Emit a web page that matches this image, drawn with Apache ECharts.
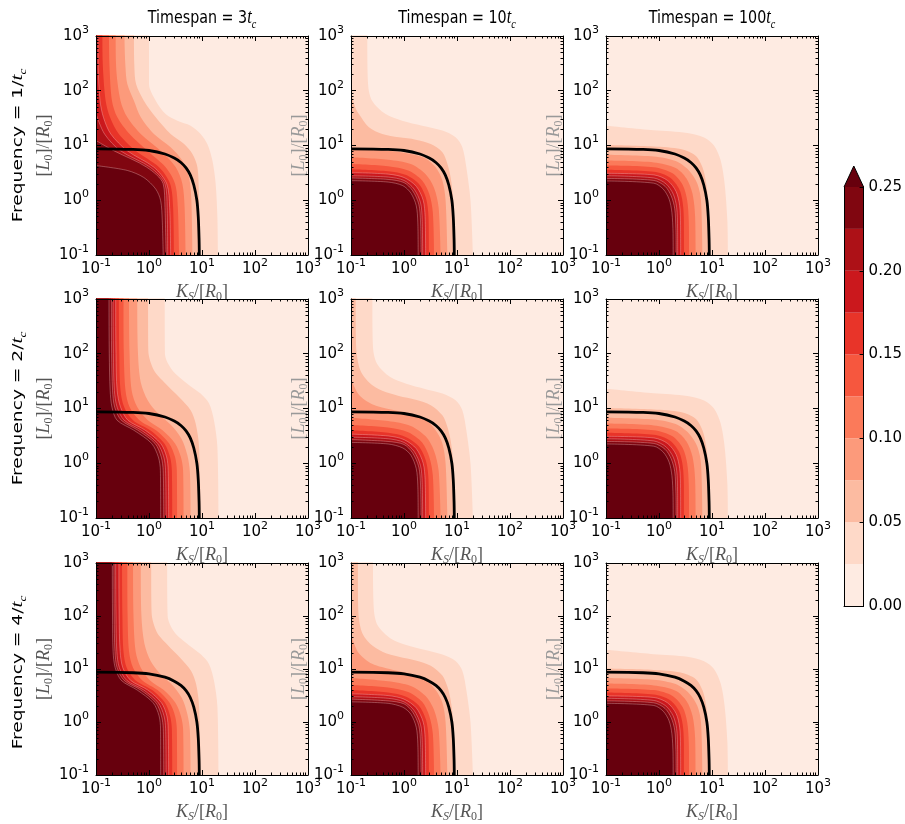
<!DOCTYPE html>
<html>
<head>
<meta charset="utf-8">
<script src="https://cdn.jsdelivr.net/npm/echarts@6/dist/echarts.min.js"></script>
<style>
html, body { margin: 0; padding: 0; background: #fff; }
#main { width: 905px; height: 824px; }
</style>
</head>
<body>
<div id="main"></div>
<script>
// contour levels and the Reds colours of each band (band 0 is the panel background)
var levels = [0.025, 0.05, 0.075, 0.1, 0.125, 0.15, 0.175, 0.2, 0.225, 0.25];
var bandColors = ['#feebe2', '#fed9c8', '#fcbba1', '#fc9a7b', '#fb7a5a', '#f6573e', '#e83429', '#cb181d', '#ad1117', '#800610'];
var overColor = '#67000d';
var cbTicks = [0, 0.05, 0.1, 0.15, 0.2, 0.25];
var timespans = ['3', '10', '100'];
var frequencies = ['1', '2', '4'];

// black reference curve, same in every panel
var boundaryLine = [[0.1, 8.7], [0.5, 8.5], [1, 8.1], [2, 7.0], [3, 5.9], [4, 4.9], [5, 3.9], [6, 2.9], [7, 1.9], [8, 1.0], [8.5, 0.5], [8.8, 0.2], [8.9, 0.1]];

// contour boundaries [Ks, L0], one line per level (0.025 ... 0.25)
var f1t3 = [
  [[1.0, 1000], [1.0, 133], [1.34, 66], [2.06, 37.6], [3.43, 28.4], [6.1, 23], [9.4, 16.2], [12.6, 10.6], [15.7, 5.3], [18.1, 2.0], [19.5, 0.5], [20, 0.1]],
  [[0.52, 1000], [0.53, 268], [0.57, 133], [0.8, 66], [1.34, 32.7], [2.56, 16.2], [4.6, 10.6], [6.6, 7.0], [8.2, 4.0], [8.8, 0.98], [9.2, 0.1]],
  [[0.345, 1000], [0.36, 268], [0.39, 133], [0.52, 66], [0.7, 32.7], [1.24, 16.2], [2.56, 9.3], [4.26, 5.3], [5.7, 2.6], [6.3, 0.98], [6.6, 0.1]],
  [[0.235, 1000], [0.24, 268], [0.29, 66], [0.39, 32.7], [0.7, 16.2], [1.66, 8.0], [3.2, 4.0], [4.26, 2.0], [4.7, 0.74], [4.9, 0.1]],
  [[0.176, 1000], [0.18, 268], [0.2, 66], [0.253, 32.7], [0.43, 16.2], [0.93, 8.0], [2.06, 4.0], [3.1, 2.0], [3.5, 0.74], [3.7, 0.1]],
  [[0.132, 1000], [0.135, 268], [0.152, 66], [0.184, 32.7], [0.27, 16.2], [0.56, 8.0], [1.55, 4.0], [2.5, 2.0], [2.85, 0.74], [2.96, 0.1]],
  [[0.109, 1000], [0.11, 268], [0.119, 66], [0.138, 32.7], [0.19, 16.2], [0.39, 8.0], [1.24, 4.0], [2.16, 2.0], [2.45, 0.74], [2.56, 0.1]],
  [[0.1, 37.6], [0.145, 16.2], [0.29, 8.0], [1.06, 4.0], [2.0, 2.0], [2.2, 0.74], [2.25, 0.1]],
  [[0.1, 12.3], [0.218, 8.0], [0.91, 4.0], [1.85, 2.0], [2.0, 0.74], [2.1, 0.1]],
  [[0.1, 4.3], [0.39, 3.5], [0.8, 2.6], [1.34, 1.6], [1.66, 0.98], [1.78, 0.42], [1.85, 0.1]]
];
var f1t10 = [
  [[0.203, 1000], [0.21, 133], [0.25, 66], [0.45, 37.6], [0.92, 28.4], [2.2, 23], [5.3, 18.7], [9.4, 14.1], [12.6, 9.3], [15.0, 4.0], [18.0, 0.98], [20, 0.1]],
  [[0.1, 93], [0.12, 50], [0.141, 37.6], [0.218, 21.5], [0.39, 16.2], [0.8, 14.1], [1.66, 12.8], [3.2, 10.6], [5.3, 7.5], [6.6, 4.6], [7.6, 2.6], [8.5, 0.98], [9.2, 0.1]],
  [[0.1, 9.0], [0.5, 8.0], [1.34, 7.0], [2.56, 5.8], [3.96, 4.0], [5.3, 2.3], [6.1, 0.98], [6.6, 0.1]],
  [[0.1, 6.1], [0.5, 5.5], [1.34, 4.6], [2.56, 3.0], [3.68, 1.7], [4.5, 0.74], [4.9, 0.1]],
  [[0.1, 4.6], [0.5, 4.2], [1.2, 3.5], [2.2, 2.3], [3.0, 1.3], [3.5, 0.6], [3.7, 0.1]],
  [[0.1, 3.7], [0.5, 3.4], [1.1, 2.9], [1.9, 2.0], [2.6, 1.1], [2.9, 0.5], [2.96, 0.1]],
  [[0.1, 3.2], [0.5, 3.0], [1.0, 2.6], [1.7, 1.8], [2.3, 1.0], [2.5, 0.5], [2.56, 0.1]],
  [[0.1, 2.8], [0.5, 2.65], [1.0, 2.3], [1.55, 1.6], [2.05, 0.9], [2.2, 0.45], [2.25, 0.1]],
  [[0.1, 2.55], [0.5, 2.4], [1.0, 2.1], [1.45, 1.5], [1.9, 0.85], [2.05, 0.4], [2.1, 0.1]],
  [[0.1, 2.28], [0.5, 2.15], [0.95, 1.85], [1.35, 1.35], [1.7, 0.8], [1.82, 0.4], [1.85, 0.1]]
];
var f1t100 = [
  [[0.1, 23], [0.8, 19], [3.43, 17], [7.1, 14], [10.9, 10], [14.6, 5.3], [17.3, 2.0], [19.5, 0.42], [20, 0.1]],
  [[0.1, 10.2], [0.8, 9.6], [2.56, 8.6], [4.9, 6.5], [6.6, 4.0], [7.8, 2.0], [8.6, 0.74], [9.2, 0.1]],
  [[0.1, 6.8], [0.8, 6.3], [2.06, 5.2], [3.68, 3.5], [5.3, 2.0], [6.2, 0.98], [6.6, 0.1]],
  [[0.1, 5.3], [0.8, 4.9], [2.06, 3.9], [3.3, 2.5], [4.3, 1.3], [4.8, 0.5], [4.9, 0.1]],
  [[0.1, 4.3], [0.8, 4.0], [1.8, 3.1], [2.8, 1.9], [3.4, 1.0], [3.65, 0.4], [3.7, 0.1]],
  [[0.1, 3.6], [0.8, 3.3], [1.6, 2.6], [2.4, 1.6], [2.8, 0.9], [2.95, 0.4], [2.96, 0.1]],
  [[0.1, 3.1], [0.8, 2.9], [1.45, 2.3], [2.1, 1.45], [2.45, 0.8], [2.55, 0.35], [2.56, 0.1]],
  [[0.1, 2.8], [0.8, 2.55], [1.35, 2.0], [1.85, 1.3], [2.15, 0.75], [2.24, 0.3], [2.25, 0.1]],
  [[0.1, 2.5], [0.8, 2.3], [1.3, 1.8], [1.7, 1.2], [1.98, 0.7], [2.08, 0.3], [2.1, 0.1]],
  [[0.1, 2.25], [0.8, 2.05], [1.2, 1.6], [1.55, 1.05], [1.75, 0.6], [1.84, 0.25], [1.85, 0.1]]
];
var f2t3 = [
  [[1.98, 1000], [2.0, 100], [2.75, 50], [5.28, 28.4], [9.4, 18.7], [13.6, 12.3], [16.8, 6.1], [19.5, 2.0], [20.5, 0.1]],
  [[0.96, 1000], [0.97, 115], [1.24, 50], [2.06, 28.4], [3.68, 16.2], [6.1, 9.3], [7.6, 5.3], [8.8, 2.0], [9.4, 0.1]],
  [[0.6, 1000], [0.62, 100], [0.7, 30], [0.95, 14], [1.5, 8.0], [2.6, 5.0], [4.1, 2.8], [5.3, 1.4], [5.9, 0.7], [6.1, 0.1]],
  [[0.42, 1000], [0.43, 100], [0.47, 21.5], [0.6, 10.6], [0.95, 6.1], [1.8, 4.0], [3.1, 2.3], [4.0, 1.3], [4.4, 0.74], [4.5, 0.1]],
  [[0.33, 1000], [0.335, 100], [0.36, 21.5], [0.43, 10.6], [0.66, 6.1], [1.35, 4.0], [2.4, 2.3], [3.1, 1.3], [3.35, 0.74], [3.4, 0.1]],
  [[0.27, 1000], [0.275, 100], [0.29, 21.5], [0.34, 10.6], [0.5, 6.1], [1.05, 4.0], [1.95, 2.3], [2.5, 1.3], [2.7, 0.74], [2.75, 0.1]],
  [[0.235, 1000], [0.238, 100], [0.25, 21.5], [0.29, 10.6], [0.4, 6.1], [0.85, 4.0], [1.66, 2.3], [2.15, 1.3], [2.3, 0.74], [2.35, 0.1]],
  [[0.21, 1000], [0.213, 100], [0.222, 21.5], [0.25, 10.6], [0.34, 6.1], [0.72, 4.0], [1.45, 2.3], [1.9, 1.3], [2.05, 0.74], [2.1, 0.1]],
  [[0.195, 1000], [0.197, 100], [0.205, 21.5], [0.225, 10.6], [0.3, 6.1], [0.62, 4.0], [1.3, 2.3], [1.7, 1.3], [1.85, 0.74], [1.9, 0.1]],
  [[0.176, 1000], [0.178, 100], [0.185, 21.5], [0.2, 10.6], [0.25, 6.1], [0.52, 4.0], [1.12, 2.3], [1.5, 1.3], [1.64, 0.74], [1.66, 0.1]]
];
var f2t10 = [
  [[0.253, 1000], [0.26, 133], [0.31, 66], [0.55, 37.6], [1.1, 28.4], [2.4, 23], [5.3, 18.7], [9.4, 14.1], [12.6, 9.3], [15.0, 4.0], [18.0, 0.98], [20, 0.1]],
  [[0.1225, 1000], [0.125, 133], [0.15, 50], [0.22, 30], [0.39, 21], [0.8, 17], [1.66, 14.5], [3.2, 11.5], [5.3, 7.5], [6.6, 4.6], [7.6, 2.6], [8.5, 0.98], [9.2, 0.1]],
  [[0.1, 35], [0.14, 18], [0.25, 12], [0.6, 9.5], [1.34, 8.0], [2.56, 6.2], [3.96, 4.0], [5.3, 2.3], [6.1, 0.98], [6.6, 0.1]],
  [[0.1, 6.8], [0.5, 5.9], [1.34, 4.8], [2.56, 3.1], [3.68, 1.7], [4.5, 0.74], [4.9, 0.1]],
  [[0.1, 5.0], [0.5, 4.5], [1.2, 3.7], [2.2, 2.4], [3.0, 1.3], [3.5, 0.6], [3.7, 0.1]],
  [[0.1, 4.0], [0.5, 3.6], [1.1, 3.0], [1.9, 2.05], [2.6, 1.1], [2.9, 0.5], [2.96, 0.1]],
  [[0.1, 3.4], [0.5, 3.15], [1.0, 2.7], [1.7, 1.85], [2.3, 1.0], [2.5, 0.5], [2.56, 0.1]],
  [[0.1, 3.0], [0.5, 2.8], [1.0, 2.4], [1.55, 1.65], [2.05, 0.9], [2.2, 0.45], [2.25, 0.1]],
  [[0.1, 2.7], [0.5, 2.5], [1.0, 2.2], [1.45, 1.55], [1.9, 0.85], [2.05, 0.4], [2.1, 0.1]],
  [[0.1, 2.4], [0.5, 2.25], [0.95, 1.9], [1.35, 1.4], [1.7, 0.8], [1.82, 0.4], [1.85, 0.1]]
];
var f2t100 = f1t100;
var f4t3 = [
  [[2.2, 1000], [2.25, 100], [3.0, 50], [5.6, 28.4], [9.6, 18.7], [13.6, 12.3], [16.8, 6.1], [19.5, 2.0], [20.5, 0.1]],
  [[1.1, 1000], [1.12, 115], [1.4, 50], [2.25, 28.4], [3.9, 16.2], [6.2, 9.3], [7.7, 5.3], [8.8, 2.0], [9.4, 0.1]],
  [[0.7, 1000], [0.72, 100], [0.82, 30], [1.08, 14], [1.65, 8.0], [2.75, 5.0], [4.2, 2.8], [5.3, 1.4], [5.9, 0.7], [6.1, 0.1]],
  [[0.5, 1000], [0.51, 100], [0.56, 21.5], [0.7, 10.6], [1.05, 6.1], [1.9, 4.0], [3.15, 2.3], [4.0, 1.3], [4.4, 0.74], [4.5, 0.1]],
  [[0.39, 1000], [0.395, 100], [0.42, 21.5], [0.5, 10.6], [0.75, 6.1], [1.45, 4.0], [2.45, 2.3], [3.1, 1.3], [3.35, 0.74], [3.4, 0.1]],
  [[0.31, 1000], [0.315, 100], [0.33, 21.5], [0.38, 10.6], [0.56, 6.1], [1.15, 4.0], [2.0, 2.3], [2.5, 1.3], [2.7, 0.74], [2.75, 0.1]],
  [[0.27, 1000], [0.273, 100], [0.285, 21.5], [0.32, 10.6], [0.45, 6.1], [0.95, 4.0], [1.72, 2.3], [2.17, 1.3], [2.3, 0.74], [2.35, 0.1]],
  [[0.235, 1000], [0.238, 100], [0.247, 21.5], [0.275, 10.6], [0.38, 6.1], [0.8, 4.0], [1.5, 2.3], [1.92, 1.3], [2.06, 0.74], [2.1, 0.1]],
  [[0.218, 1000], [0.22, 100], [0.228, 21.5], [0.25, 10.6], [0.34, 6.1], [0.7, 4.0], [1.35, 2.3], [1.72, 1.3], [1.86, 0.74], [1.9, 0.1]],
  [[0.203, 1000], [0.205, 100], [0.21, 21.5], [0.23, 10.6], [0.3, 6.1], [0.6, 4.0], [1.2, 2.3], [1.55, 1.3], [1.65, 0.74], [1.66, 0.1]]
];
var f4t10 = [
  [[0.26, 1000], [0.27, 133], [0.32, 66], [0.56, 37.6], [1.1, 28.4], [2.4, 23], [5.3, 18.7], [9.4, 14.1], [12.6, 9.3], [15.0, 4.0], [18.0, 0.98], [20, 0.1]],
  [[0.135, 1000], [0.137, 133], [0.16, 50], [0.23, 30], [0.4, 21], [0.8, 17], [1.66, 14.5], [3.2, 11.5], [5.3, 7.5], [6.6, 4.6], [7.6, 2.6], [8.5, 0.98], [9.2, 0.1]],
  [[0.1, 45], [0.14, 20], [0.25, 12.5], [0.6, 9.7], [1.34, 8.1], [2.56, 6.2], [3.96, 4.0], [5.3, 2.3], [6.1, 0.98], [6.6, 0.1]],
  [[0.1, 6.8], [0.5, 5.9], [1.34, 4.8], [2.56, 3.1], [3.68, 1.7], [4.5, 0.74], [4.9, 0.1]],
  [[0.1, 5.0], [0.5, 4.5], [1.2, 3.7], [2.2, 2.4], [3.0, 1.3], [3.5, 0.6], [3.7, 0.1]],
  [[0.1, 4.0], [0.5, 3.6], [1.1, 3.0], [1.9, 2.05], [2.6, 1.1], [2.9, 0.5], [2.96, 0.1]],
  [[0.1, 3.4], [0.5, 3.15], [1.0, 2.7], [1.7, 1.85], [2.3, 1.0], [2.5, 0.5], [2.56, 0.1]],
  [[0.1, 3.0], [0.5, 2.8], [1.0, 2.4], [1.55, 1.65], [2.05, 0.9], [2.2, 0.45], [2.25, 0.1]],
  [[0.1, 2.7], [0.5, 2.5], [1.0, 2.2], [1.45, 1.55], [1.9, 0.85], [2.05, 0.4], [2.1, 0.1]],
  [[0.1, 2.4], [0.5, 2.25], [0.95, 1.9], [1.35, 1.4], [1.7, 0.8], [1.82, 0.4], [1.85, 0.1]]
];
var f4t100 = f1t100;

var panels = [f1t3, f1t10, f1t100, f2t3, f2t10, f2t100, f4t3, f4t10, f4t100];

var chart = echarts.init(document.getElementById('main'), null, { renderer: 'canvas' });

var SANS = 'DejaVu Sans';
var SERIF = 'Liberation Serif';
var colLeft = [96, 351, 606];
var rowTop = [36, 299, 563];
var PW = 212, PH = 219;
var X_MIN = 0.1, Y_MAX = 1000, Y_ABOVE = 10000;

var tickRich = {
  b: { fontFamily: SANS, fontSize: 15, lineHeight: 23, color: '#000' },
  s: { fontFamily: SANS, fontSize: 11, lineHeight: 11, verticalAlign: 'top', color: '#000' }
};
function powLabel(v) {
  var e = Math.round(Math.log10(v));
  return '{b|10}{s|' + e + '}';
}
function nameRich(color) {
  return {
    n: { fontFamily: SERIF, fontSize: 18, lineHeight: 22, color: color },
    i: { fontFamily: SERIF, fontStyle: 'italic', fontSize: 18, lineHeight: 22, color: color },
    si: { fontFamily: SERIF, fontStyle: 'italic', fontSize: 12, lineHeight: 12, verticalAlign: 'bottom', color: color },
    s: { fontFamily: SERIF, fontSize: 12, lineHeight: 12, verticalAlign: 'bottom', color: color }
  };
}
var xName = '{i|K}{si|S}{n|/[}{i|R}{s|0}{n|]}';
var yName = '{n|[}{i|L}{s|0}{n|]/[}{i|R}{s|0}{n|]}';

function logAxis(gi, pos, main, name, nameColor, nameGap) {
  return {
    type: 'log', logBase: 10, gridIndex: gi, position: pos,
    min: 0.1, max: 1000, splitNumber: 4, z: 10,
    axisLine: { show: true, onZero: false, lineStyle: { color: '#000', width: 1 } },
    axisTick: { show: true, inside: true, length: 5, lineStyle: { color: '#000' } },
    minorTick: { show: true, splitNumber: 9, length: 2.5, lineStyle: { color: '#000' } },
    splitLine: { show: false },
    axisLabel: { show: main, formatter: powLabel, rich: tickRich, margin: pos === 'bottom' ? 3 : 7 },
    name: main ? name : '',
    nameLocation: 'middle',
    nameGap: nameGap,
    nameTextStyle: { rich: nameRich(nameColor), fontFamily: SERIF, fontSize: 18, color: nameColor }
  };
}

var grids = [], xAxes = [], yAxes = [], series = [];
panels.forEach(function (contours, p) {
  var r = Math.floor(p / 3), c = p % 3;
  grids.push({ left: colLeft[c], top: rowTop[r], width: PW, height: PH, show: true, backgroundColor: bandColors[0], borderWidth: 0 });
  var yCol = c === 0 ? '#555' : '#999';
  xAxes.push(logAxis(p, 'bottom', true, xName, '#555', 26));
  xAxes.push(logAxis(p, 'top', false, '', '#000', 0));
  yAxes.push(logAxis(p, 'left', true, yName, yCol, 40));
  yAxes.push(logAxis(p, 'right', false, '', '#000', 0));
  contours.forEach(function (pts, k) {
    // lines that leave through the top are closed above the frame (clipped), so the fill covers the left side
    var filled = pts[0][1] >= Y_MAX ? [[X_MIN, Y_ABOVE], [pts[0][0], Y_ABOVE]].concat(pts) : pts;
    series.push({
      type: 'line', xAxisIndex: 2 * p, yAxisIndex: 2 * p,
      data: filled, symbol: 'none', silent: true, animation: false,
      smooth: 0.3,
      lineStyle: k >= 6 ? { width: 0.6, color: 'rgba(255,215,215,0.55)' } : { width: 1, opacity: 0 },
      areaStyle: { color: k === 9 ? overColor : bandColors[k + 1], opacity: 1, origin: 'start' }
    });
  });
  series.push({
    type: 'line', xAxisIndex: 2 * p, yAxisIndex: 2 * p,
    data: boundaryLine, symbol: 'none', silent: true, animation: false,
    smooth: 0.3,
    lineStyle: { color: '#000', width: 2.8 }
  });
});

// colour bar
var cbGrid = panels.length;          // grid 9
var cbX = xAxes.length;              // xAxis 18
var cbY = yAxes.length;              // yAxis 18 (labelled, right) and 19 (left frame)
grids.push({ left: 844, top: 187, width: 21, height: 419, show: false });
xAxes.push({
  type: 'category', gridIndex: cbGrid, data: ['cb'], position: 'bottom', z: 10,
  axisLine: { show: true, lineStyle: { color: '#000' } }, axisTick: { show: false }, axisLabel: { show: false }
});
yAxes.push({
  type: 'value', gridIndex: cbGrid, position: 'right', min: 0, max: 0.25, interval: 0.05, z: 10,
  axisLine: { show: true, lineStyle: { color: '#000' } },
  axisTick: { show: true, inside: true, length: 4, lineStyle: { color: '#000' } },
  splitLine: { show: false },
  axisLabel: { margin: 5, fontFamily: SANS, fontSize: 15, color: '#000', formatter: function (v) { return v.toFixed(2); } }
});
yAxes.push({
  type: 'value', gridIndex: cbGrid, position: 'left', min: 0, max: 0.25, interval: 0.05, z: 10,
  axisLine: { show: true, lineStyle: { color: '#000' } }, axisTick: { show: false }, axisLabel: { show: false }, splitLine: { show: false }
});
levels.forEach(function (lv, k) {
  series.push({
    type: 'bar', xAxisIndex: cbX, yAxisIndex: cbY,
    stack: 'cb', barWidth: '100%', data: [lv - (k === 0 ? 0 : levels[k - 1])],
    itemStyle: { color: bandColors[k] }, silent: true, animation: false
  });
});
series.push({
  type: 'custom', xAxisIndex: cbX, yAxisIndex: cbY, data: [[0, cbTicks[cbTicks.length - 1]]],
  clip: false, silent: true, animation: false, z: 11,
  renderItem: function (params, api) {
    var p = api.coord([0, api.value(1)]);
    var w = api.size([1, 0])[0];
    var pts = [[p[0] - w / 2, p[1]], [p[0], p[1] - 21], [p[0] + w / 2, p[1]]];
    return {
      type: 'group', children: [
        { type: 'polygon', shape: { points: pts }, style: { fill: overColor } },
        { type: 'polyline', shape: { points: pts }, style: { stroke: '#000', lineWidth: 1, fill: null } }
      ]
    };
  }
});

// titles and row labels (the source figure's lettering is stretched vertically)
var labelRich = {
  a: { fontFamily: SANS, fontSize: 14, lineHeight: 20, fill: '#000' },
  t: { fontFamily: SERIF, fontStyle: 'italic', fontSize: 16, lineHeight: 20, fill: '#000' },
  c: { fontFamily: SERIF, fontStyle: 'italic', fontSize: 10, lineHeight: 10, verticalAlign: 'bottom', fill: '#000' }
};
var graphics = [];
timespans.forEach(function (t, c) {
  graphics.push({
    type: 'text', x: colLeft[c] + PW / 2, y: 18, scaleX: 1.02, scaleY: 1.25, z: 20,
    style: { text: '{a|Timespan = ' + t + '}{t|t}{c|c}', align: 'center', verticalAlign: 'middle', rich: labelRich }
  });
});
frequencies.forEach(function (f, r) {
  graphics.push({
    type: 'text', x: 18, y: rowTop[r] + PH / 2, rotation: Math.PI / 2, scaleX: 1.33, scaleY: 1.0, z: 20,
    style: { text: '{a|Frequency = ' + f + '/}{t|t}{c|c}', align: 'center', verticalAlign: 'middle', rich: labelRich }
  });
});

var option = {
  animation: false,
  backgroundColor: '#fff',
  grid: grids,
  xAxis: xAxes,
  yAxis: yAxes,
  series: series,
  graphic: graphics
};
chart.setOption(option);
</script>
</body>
</html>
